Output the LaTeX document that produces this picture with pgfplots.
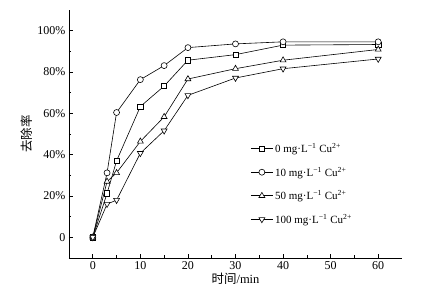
\documentclass[border=0pt]{standalone}
\usepackage{fontspec}
\setmainfont{Liberation Serif}
\newfontfamily\cjk{Noto Sans CJK SC}
\usepackage{pgfplots}
\pgfplotsset{compat=1.18}
\begin{document}
\begin{tikzpicture}
\begin{axis}[
  scale only axis,
  width=333pt, height=248pt,
  xmin=-5, xmax=65, ymin=-10, ymax=110,
  axis x line=bottom, axis y line=left,
  axis line style={-, line width=0.8pt},
  xtick={0,10,...,60}, ytick={0,20,...,100},
  yticklabels={0,20\%,40\%,60\%,80\%,100\%},
  minor x tick num=1, minor y tick num=1,
  tick align=inside,
  major tick length=4pt, minor tick length=2.5pt,
  tick style={black, line width=0.6pt},
  ticklabel style={font=\fontsize{12}{14}\selectfont},
  /pgf/number format/assume math mode=true,
  xlabel={{\cjk 时间}/min},
  ylabel={\cjk 去除率},
  label style={font=\fontsize{12.5}{14}\selectfont},
  xlabel style={yshift=3pt},
  ylabel style={yshift=-2pt},
  legend style={draw=none, fill=none, at={(axis cs:32.5,47.5)}, anchor=north west,
    font=\fontsize{11}{13}\selectfont, row sep=9pt},
  legend cell align=left,
  legend image code/.code={\draw[mark repeat=2,mark phase=2] plot coordinates {(0pt,0pt) (11pt,0pt) (22pt,0pt)};},
]
\addplot[black, line width=0.6pt, mark=square*, mark size=2.6pt, mark options={fill=white, solid}] coordinates {(0,0) (3,21.3) (5,37) (10,63.3) (15,73.2) (20,85.7) (30,88.4) (40,93) (60,93.3)};
\addlegendentry{0 mg·L\textsuperscript{−1} Cu\textsuperscript{2+}}
\addplot[black, line width=0.6pt, mark=*, mark size=3pt, mark options={fill=white, solid}] coordinates {(0,0) (3,31.2) (5,60.4) (10,76.3) (15,83.1) (20,91.8) (30,93.6) (40,94.6) (60,94.6)};
\addlegendentry{10 mg·L\textsuperscript{−1} Cu\textsuperscript{2+}}
\addplot[black, line width=0.6pt, mark=triangle*, mark size=3.4pt, mark options={fill=white, solid}] coordinates {(0,0) (3,27) (5,31.2) (10,46.4) (15,58.3) (20,76.6) (30,81.6) (40,85.7) (60,90.9)};
\addlegendentry{50 mg·L\textsuperscript{−1} Cu\textsuperscript{2+}}
\addplot[black, line width=0.6pt, mark=triangle*, mark size=3.4pt, mark options={fill=white, solid, rotate=180}] coordinates {(0,0) (3,16.1) (5,18) (10,40.7) (15,51.6) (20,68.7) (30,77.1) (40,81.6) (60,86.3)};
\addlegendentry{100 mg·L\textsuperscript{−1} Cu\textsuperscript{2+}}
\end{axis}
\path (current axis.south west) ++(-69pt,-36pt) rectangle ++(423pt,294pt);
\end{tikzpicture}
\end{document}
